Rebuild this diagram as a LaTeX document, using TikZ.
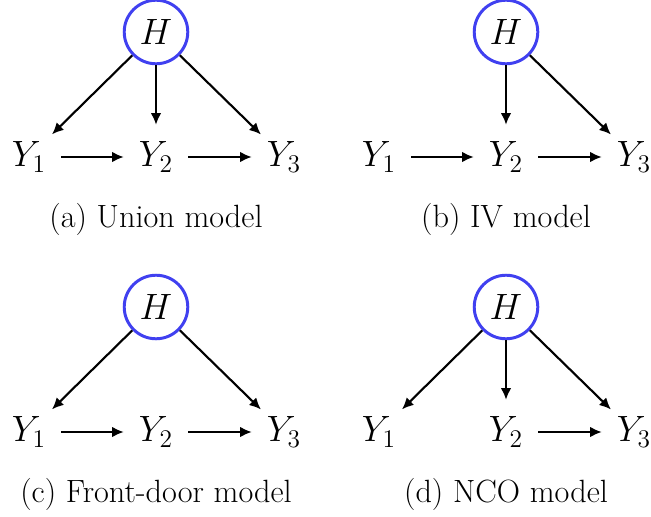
\documentclass[tikz,border=0pt]{standalone}
\usetikzlibrary{arrows.meta}
\definecolor{HiddenBlue}{RGB}{64,64,240}
\tikzset{
  >=Latex,
  var/.style={circle,minimum size=30pt,inner sep=0pt,font=\fontsize{18.5}{20}\selectfont},
  hidden/.style={var,draw=HiddenBlue,line width=1.4pt},
  causal/.style={-{Latex[length=5.5pt,width=5pt]},line width=1pt},
  caption/.style={font=\fontsize{15.2}{18}\selectfont}
}

\begin{document}
\begin{tikzpicture}[x=0.472pt,y=-0.472pt]
  \useasboundingbox (0,0) rectangle (651,516);
  % (a) union model
  \node[hidden] (Ha) at (156,32) {$H$};
  \node[var] (Y1a) at (29,157) {$Y_1$};
  \node[var] (Y2a) at (156,157) {$Y_2$};
  \node[var] (Y3a) at (284,157) {$Y_3$};
  \draw[causal] (Ha) -- (Y1a);
  \draw[causal] (Ha) -- (Y2a);
  \draw[causal] (Ha) -- (Y3a);
  \draw[causal] (Y1a) -- (Y2a);
  \draw[causal] (Y2a) -- (Y3a);
  \node[caption] (capa) at (156,219) {(a) Union model};
  % (b) IV model
  \node[hidden] (Hb) at (506,32) {$H$};
  \node[var] (Y1b) at (379,157) {$Y_1$};
  \node[var] (Y2b) at (506,157) {$Y_2$};
  \node[var] (Y3b) at (634,157) {$Y_3$};
  \draw[causal] (Hb) -- (Y2b);
  \draw[causal] (Hb) -- (Y3b);
  \draw[causal] (Y1b) -- (Y2b);
  \draw[causal] (Y2b) -- (Y3b);
  \node[caption] (capb) at (506,219) {(b) IV model};
  % (c) front-door model
  \node[hidden] (Hc) at (156,307) {$H$};
  \node[var] (Y1c) at (29,432) {$Y_1$};
  \node[var] (Y2c) at (156,432) {$Y_2$};
  \node[var] (Y3c) at (284,432) {$Y_3$};
  \draw[causal] (Hc) -- (Y1c);
  \draw[causal] (Hc) -- (Y3c);
  \draw[causal] (Y1c) -- (Y2c);
  \draw[causal] (Y2c) -- (Y3c);
  \node[caption] (capc) at (156,494) {(c) Front-door model};
  % (d) NCO model
  \node[hidden] (Hd) at (506,307) {$H$};
  \node[var] (Y1d) at (379,432) {$Y_1$};
  \node[var] (Y2d) at (506,432) {$Y_2$};
  \node[var] (Y3d) at (634,432) {$Y_3$};
  \draw[causal] (Hd) -- (Y1d);
  \draw[causal] (Hd) -- (Y2d);
  \draw[causal] (Hd) -- (Y3d);
  \draw[causal] (Y2d) -- (Y3d);
  \node[caption] (capd) at (506,494) {(d) NCO model};
\end{tikzpicture}
\end{document}
